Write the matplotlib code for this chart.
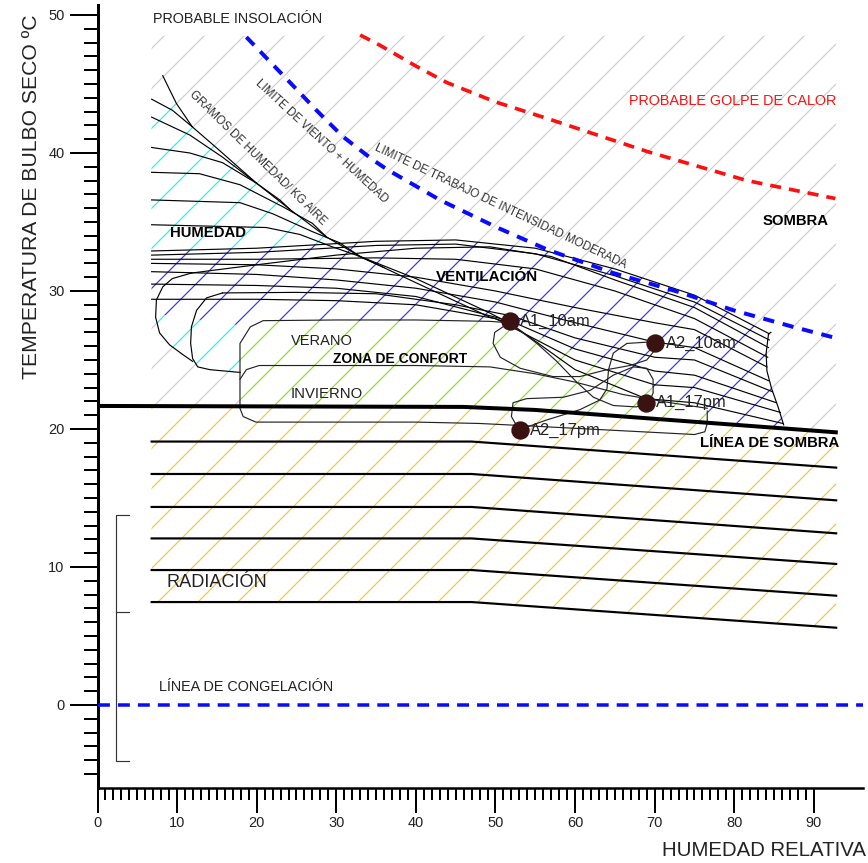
import numpy as np
import matplotlib
matplotlib.use("Agg")
import matplotlib.pyplot as plt
from matplotlib.ticker import FixedLocator

plt.rcParams["font.family"] = ["Liberation Sans", "DejaVu Sans"]
plt.rcParams["hatch.linewidth"] = 0.7

DPI = 120

# ---- chart data (humedad relativa %, temperatura ºC) ----
X_MAJOR = [0, 10, 20, 30, 40, 50, 60, 70, 80, 90]
Y_MAJOR = [0, 10, 20, 30, 40, 50]

ZONE_LEFT = 6.8
ZONE_RIGHT = 92.8
ZONE_TOP = 48.5

SHADOW_X = [0, 46, 55, 93.0]
SHADOW_Y = [21.67, 21.6, 21.38, 19.75]

RAD_X = [6.8, 47, 92.8]
RAD_LEFT = [19.09, 16.74, 14.35, 12.07, 9.78, 7.46]
RAD_RIGHT = [17.2, 14.83, 12.44, 10.22, 7.92, 5.6]

HEAT_X = [33.0, 35.5, 40.0, 43.9, 50.0, 56.5, 69.1, 81.6, 92.7]
HEAT_Y = [48.55, 47.8, 46.3, 45.1, 43.7, 42.5, 40.1, 38.0, 36.7]

WIND_X = [18.7, 24.2, 27.5, 30.8, 34.6, 36.4, 43.0, 50.2, 56.5, 64.8, 73.2, 79.9, 87.4, 92.7]
WIND_Y = [48.4, 45.1, 43.1, 41.2, 39.5, 38.8, 36.6, 34.6, 33.0, 31.3, 29.9, 28.6, 27.4, 26.6]

DIAG = [(8.2, 45.6), (9.9, 43.6), (11.9, 41.9), (14.9, 40.4), (20.0, 37.8),
        (24.2, 35.9), (28.8, 33.9), (33.0, 32.5), (40.0, 30.6), (49.3, 28.1), (51.7, 27.7)]

FAN_LINES = [
    [(6.8, 43.9), (9.4, 43.1), (11.9, 41.9)],
    [(6.8, 42.6), (11.6, 41.3), (15.7, 39.7), (18.2, 38.6), (20.0, 37.8)],
    [(6.8, 40.4), (11.6, 40.0), (15.7, 39.3), (20.0, 37.8), (22.9, 36.6), (24.2, 35.9)],
    [(6.8, 38.6), (12.8, 38.5), (17.9, 37.7), (23.3, 36.1), (27.0, 34.9), (28.8, 33.9)],
    [(6.8, 36.6), (17.9, 36.4), (22.0, 35.6), (27.0, 34.3), (30.4, 33.5), (33.0, 32.5)],
    [(6.8, 34.8), (21.2, 34.6), (25.4, 34.1), (29.5, 33.2), (32.5, 32.6), (36.0, 31.7)],
]

VENT_LINES = [
    [(6.8, 32.9), (20, 33.1), (35, 33.6), (45, 33.7), (55, 33.1), (65, 31.6), (75, 29.7), (84.4, 26.9)],
    [(6.8, 32.6), (20, 32.8), (35, 33.3), (45, 33.4), (55, 32.7), (65, 31.1), (75, 29.2), (84.4, 26.45)],
    [(11.8, 31.3), (20, 31.9), (30, 32.6), (40, 33.1), (49.3, 33.2), (57, 32.5), (65, 30.8), (75, 28.8), (84.3, 25.9)],
    [(6.8, 32.3), (20, 32.3), (35, 32.4), (45, 32.3), (55, 31.6), (65, 30.0), (75, 28.0), (84.2, 25.2)],
    [(6.8, 32.0), (20, 31.9), (30, 31.6), (40, 31.0), (50, 30.0), (60, 28.8), (70, 27.7), (75, 27.2), (84.1, 24.5)],
    [(6.8, 31.4), (20, 31.2), (30, 30.8), (40, 30.2), (50, 29.2), (60, 27.7), (70, 26.3), (75, 25.9), (84.3, 23.5)],
    [(15.7, 29.86), (25, 29.9), (35, 29.8), (45, 29.0), (52, 28.2), (60, 26.6), (70, 25.2), (75, 25.0), (84.8, 22.7)],
    [(6.8, 30.5), (20, 30.4), (30, 30.2), (40, 29.6), (48, 28.4), (52, 27.8), (60, 25.8), (70, 24.2), (75, 23.9), (85.3, 21.9)],
    [(6.8, 29.4), (20, 29.4), (30, 29.3), (40, 29.0), (50, 28.0), (60, 25.0), (70, 23.2), (75, 23.0), (85.8, 21.2)],
    [(33.0, 32.5), (40, 30.9), (49.3, 28.4), (52, 27.6), (60, 24.3), (68.9, 22.2), (75, 21.9), (86.1, 20.4)],
]

VENT_EDGE = [(84.6, 27.0), (84.3, 26.9), (84.0, 25.5), (84.1, 24.2), (84.7, 22.9), (85.5, 21.6), (86.2, 20.3)]

LOBE_OUTER = [(11.8, 31.3), (9.4, 30.9), (8.2, 30.3), (7.4, 29.35), (7.3, 28.1),
              (7.8, 26.96), (9.05, 26.1), (10.7, 25.4), (11.95, 24.9)]
LOBE_MIDDLE = [(15.7, 29.86), (13.7, 29.5), (12.45, 28.6), (11.8, 27.4), (11.7, 26.2),
               (11.95, 25.1), (12.6, 24.5), (14.1, 24.3), (17.9, 24.1)]

SUMMER = [(17.9, 24.1), (17.9, 26.2), (19.2, 27.4), (20.8, 27.85), (30, 27.9), (40, 27.9),
          (49.3, 27.8), (51.7, 27.7)]
WINTER_TOP = [(17.9, 23.6), (18.7, 24.3), (20.3, 24.6), (30, 24.6), (40, 24.6), (49.3, 24.5),
              (55, 24.0), (60, 23.4), (66, 22.5), (72, 21.9), (76.6, 21.5)]
WINTER_EDGE = [(17.9, 24.1), (17.9, 21.5), (18.3, 20.9), (19.9, 20.5), (30, 20.5), (40, 20.5),
               (48, 20.4), (55, 20.2), (65, 19.9), (75, 19.6), (76.3, 19.8), (76.6, 20.4), (76.6, 21.3)]

LOOPS = [
    [(51.7, 27.7), (49.9, 27.0), (49.7, 26.2), (50.6, 25.2), (53.1, 24.4), (57.2, 23.8), (60.6, 23.8),
     (64.0, 24.3), (66.9, 24.6), (69.0, 25.0), (70.0, 25.7), (70.2, 26.2)],
    [(52.2, 27.5), (55.2, 26.2), (57.7, 24.9), (60.2, 23.4), (62.3, 22.3), (64.8, 21.7), (67.7, 21.6),
     (68.8, 21.8)],
    [(69.2, 26.3), (66.5, 26.2), (64.8, 25.5), (64.2, 24.3), (64.0, 22.9), (63.1, 22.1), (60.6, 21.4),
     (56.4, 20.65), (53.5, 20.05)],
    [(52.7, 20.2), (52.0, 20.9), (52.2, 21.9), (53.9, 22.2), (58.5, 22.3), (61.9, 22.8), (64.8, 23.9),
     (67.3, 24.5), (69.0, 24.4), (69.8, 23.6), (69.8, 22.6), (69.4, 22.1)],
]

POINT_NAMES = ["A1_10am", "A2_10am", "A1_17pm", "A2_17pm"]
POINT_X = [51.8, 70.1, 68.9, 53.1]
POINT_Y = [27.8, 26.2, 21.9, 19.9]

BRACKET_X = [2.3, 4.0]
BRACKET_Y = [13.77, 6.74, -4.06]

# hatched areas (outline points)
HUMID_AREA = [(6.8, 44.6), (9.9, 43.6), (11.9, 41.9), (14.9, 40.4), (20.0, 37.8), (24.2, 35.9),
              (28.8, 33.9), (33.0, 32.5), (20.8, 27.85), (19.2, 27.4), (17.9, 26.2), (17.9, 24.1),
              (14.1, 24.3), (12.6, 24.5), (11.95, 25.1), (10.7, 25.4), (9.05, 26.1), (7.8, 26.96),
              (7.3, 28.1), (7.4, 29.35), (6.8, 29.6)]
VENT_TOP = VENT_LINES[0]
COMFORT_TOP = [(17.9, 26.2), (19.2, 27.4), (20.8, 27.85), (49.3, 27.8), (51.7, 27.7), (76.6, 21.2)]


def xy(points):
    pts = np.array(points, dtype=float)
    return pts[:, 0], pts[:, 1]


def shadow_between(x0, x1):
    xs = [x0] + [x for x in SHADOW_X if x0 < x < x1] + [x1]
    return np.array(xs), np.interp(xs, SHADOW_X, SHADOW_Y)


def hatch_area(ax, xs, ys, color, z):
    ax.fill(xs, ys, facecolor="white", edgecolor=color, hatch="/", linewidth=0, zorder=z)


fig = plt.figure(figsize=(868 / DPI, 863 / DPI), dpi=DPI)
ax = fig.add_axes([97.5 / 868, 0.08714, 0.8822, 0.90668])
ax.set_xlim(0, 96.2)
ax.set_ylim(-6, 50.7)

# grey background hatch (sombra / insolación)
sx, sy = shadow_between(ZONE_LEFT, ZONE_RIGHT)
hatch_area(ax, np.r_[ZONE_LEFT, ZONE_RIGHT, sx[::-1]], np.r_[ZONE_TOP, ZONE_TOP, sy[::-1]], "#cdcdcd", 1)

# yellow radiation area
rad_bottom = [RAD_LEFT[-1], RAD_LEFT[-1], RAD_RIGHT[-1]]
hatch_area(ax, np.r_[sx, RAD_X[::-1]], np.r_[sy, rad_bottom[::-1]], "#f6c23e", 2)

# cyan humidity area
hx, hy = xy(HUMID_AREA)
hatch_area(ax, hx, hy, "#22eeee", 3)

# blue ventilation area
vtx, vty = xy(VENT_TOP)
ex, ey = xy(VENT_EDGE)
cx, cy = xy(COMFORT_TOP)
bsx, bsy = shadow_between(cx[-1], ex[-1])
hatch_area(ax,
           np.r_[vtx, ex, bsx[::-1], cx[::-1][:-1], ZONE_LEFT],
           np.r_[vty, ey, bsy[::-1], cy[::-1][:-1], 28.4], "#3030ff", 4)

# green comfort area
gsx, gsy = shadow_between(cx[0], cx[-1])
hatch_area(ax, np.r_[cx, gsx[::-1]], np.r_[cy, gsy[::-1]], "#84e028", 5)

# lines
line_kw = dict(color="black", linewidth=0.7, zorder=6)
for curve in FAN_LINES + VENT_LINES + [DIAG, LOBE_OUTER, LOBE_MIDDLE]:
    ax.plot(*xy(curve), **line_kw)
ax.plot(*xy(VENT_EDGE), **line_kw)
for curve in [SUMMER, WINTER_TOP, WINTER_EDGE]:
    ax.plot(*xy(curve), color="#222222", linewidth=0.7, zorder=6)
for curve in LOOPS:
    ax.plot(*xy(curve), color="#222222", linewidth=0.7, zorder=7)

for left, right in zip(RAD_LEFT, RAD_RIGHT):
    ax.plot(RAD_X, [left, left, right], color="black", linewidth=1.3, zorder=6)
ax.plot(SHADOW_X, SHADOW_Y, color="black", linewidth=2.4, zorder=7, solid_capstyle="butt")

ax.plot(HEAT_X, HEAT_Y, color="#ff1010", linewidth=2.2, linestyle=(0, (3.0, 2.2)), zorder=8)
ax.plot(WIND_X, WIND_Y, color="#0a0aff", linewidth=2.4, linestyle=(0, (2.8, 2.2)), zorder=8)
ax.plot([0, 96.2], [0, 0], color="#0a0aff", linewidth=2.1, linestyle=(0, (3.4, 2.3)), zorder=8)

# bracket
ax.plot([BRACKET_X[1], BRACKET_X[0], BRACKET_X[0], BRACKET_X[1]],
        [BRACKET_Y[0], BRACKET_Y[0], BRACKET_Y[2], BRACKET_Y[2]], color="#333333", linewidth=0.7)
ax.plot(BRACKET_X, [BRACKET_Y[1], BRACKET_Y[1]], color="#333333", linewidth=0.7)

# points
ax.plot(POINT_X, POINT_Y, "o", color="#3a1212", markersize=10, zorder=9, linestyle="none")
for name, px, py in zip(POINT_NAMES, POINT_X, POINT_Y):
    ax.annotate(name, (px, py), xytext=(6, 0), textcoords="offset points",
                va="center", ha="left", fontsize=9.9, color="#222222", zorder=10)

# labels
txt = dict(zorder=10, va="center", ha="left")
ax.text(7.0, 49.7, "PROBABLE INSOLACIÓN", fontsize=8.65, color="#222222", **txt)
ax.text(66.8, 43.8, "PROBABLE GOLPE DE CALOR", fontsize=8.65, color="#ff1010", **txt)
ax.text(83.5, 35.1, "SOMBRA", fontsize=8.9, fontweight="bold", **txt)
ax.text(9.1, 34.2, "HUMEDAD", fontsize=8.9, fontweight="bold", **txt)
ax.text(42.45, 31.0, "VENTILACIÓN", fontsize=9.1, fontweight="bold", **txt)
ax.text(24.3, 26.4, "VERANO", fontsize=8.8, color="#222222", **txt)
ax.text(29.6, 25.1, "ZONA DE CONFORT", fontsize=8.3, fontweight="bold", **txt)
ax.text(24.3, 22.5, "INVIERNO", fontsize=8.9, color="#222222", **txt)
ax.text(75.7, 19.0, "LÍNEA DE SOMBRA", fontsize=8.9, fontweight="bold", **txt)
ax.text(8.7, 8.85, "RADIACIÓN", fontsize=10.9, color="#222222", **txt)
ax.text(7.7, 1.3, "LÍNEA DE CONGELACIÓN", fontsize=8.65, color="#222222", **txt)

rot = dict(zorder=10, va="center", ha="center", rotation_mode="anchor", color="#333333", fontsize=7.0)
ax.text(20.1, 39.6, "GRAMOS DE HUMEDAD/ KG AIRE", rotation=-44.4, **rot)
ax.text(28.1, 40.8, "LIMITE DE VIENTO + HUMEDAD", rotation=-42.8, **rot)
ax.text(50.6, 36.1, "LIMITE DE TRABAJO DE INTENSIDAD MODERADA", rotation=-25.3, **rot)

fig.text(32 / 868, 1 - 197 / 863, "TEMPERATURA DE BULBO SECO ºC", rotation=90,
         ha="center", va="center", fontsize=12.7, color="#222222")
fig.text(662 / 868, 1 - 850 / 863, "HUMEDAD RELATIVA", ha="left", va="center",
         fontsize=12.2, color="#222222")

# axes styling
for side in ["top", "right"]:
    ax.spines[side].set_visible(False)
ax.spines["left"].set_linewidth(1.8)
ax.spines["bottom"].set_linewidth(1.5)
ax.xaxis.set_major_locator(FixedLocator(X_MAJOR))
ax.xaxis.set_minor_locator(FixedLocator(range(0, 91)))
ax.yaxis.set_major_locator(FixedLocator(Y_MAJOR))
ax.yaxis.set_minor_locator(FixedLocator(range(-5, 50)))
ax.tick_params(axis="x", which="major", length=15, width=1.2, pad=2, labelsize=8.7, labelcolor="#222222")
ax.tick_params(axis="x", which="minor", length=7.2, width=1.2)
ax.tick_params(axis="y", which="major", length=16.8, width=1.2, pad=3, labelsize=8.7, labelcolor="#222222")
ax.tick_params(axis="y", which="minor", length=8.4, width=1.2)

fig.savefig("out.png", dpi=DPI)
